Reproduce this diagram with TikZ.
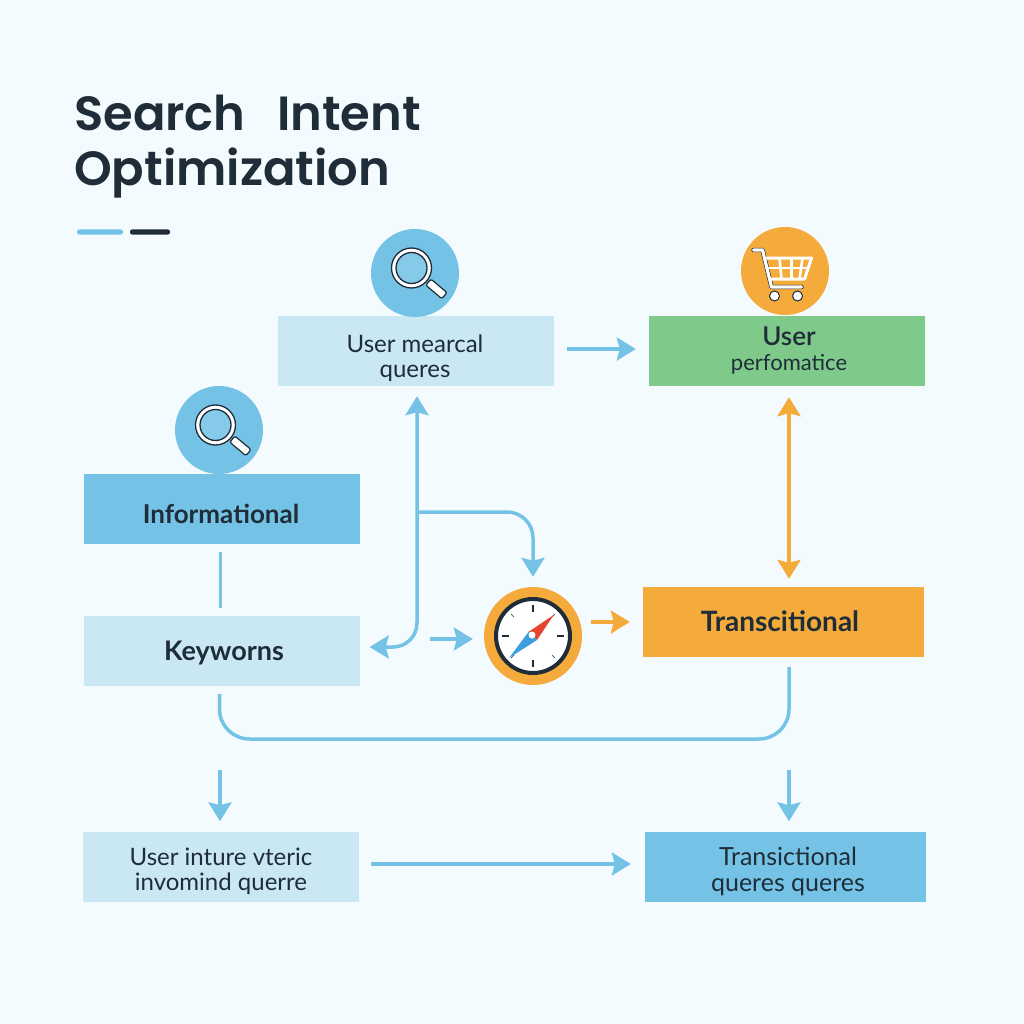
\documentclass[tikz,border=0pt]{standalone}
\usepackage{fontspec}
\setmainfont{Lato}
\newfontfamily\titlefont{Poppins SemiBold}
\newfontfamily\midfont{Lato Semibold}
\usetikzlibrary{calc,
	positioning,
	arrows.meta}
\definecolor{pagebg}{HTML}{F4FBFE}
\definecolor{ink}{HTML}{1F2D38}
\definecolor{skyblue}{HTML}{74C3E6}
\definecolor{paleblue}{HTML}{C9E8F3}
\definecolor{leaf}{HTML}{7FC98A}
\definecolor{amber}{HTML}{F5AB3C}
\definecolor{needlered}{HTML}{E5452F}
\definecolor{needleblue}{HTML}{3F9FDE}
\tikzstyle{box}=[minimum width=276pt, minimum height=70pt, inner sep=0]
\tikzstyle{pale}=[box, fill=paleblue]
\tikzstyle{sky}=[box, fill=skyblue]
\tikzstyle{txt}=[inner sep=0, align=center, text=ink, font=\fontsize{24}{25}\selectfont]
\tikzstyle{head}=[txt, font=\bfseries\fontsize{26}{26}\selectfont]
\tikzstyle{disc}=[circle, minimum size=88pt, inner sep=0]
\tikzstyle{flow}=[draw=skyblue, line width=3.5pt, -{Stealth[length=19pt,width=23pt,inset=3pt]}]
\tikzstyle{flowo}=[flow, draw=amber]
\tikzstyle{wire}=[draw=skyblue, line width=3.5pt]
\tikzset{
	lens/.pic={
		\draw[ink, line width=1.2pt, fill=white, rounded corners=2pt, rotate=-40] (22,-4) rectangle (43,4);
		\fill[white, even odd rule] (0,0) circle (20) (0,0) circle (15.5);
		\fill[skyblue!88!white] (0,0) circle (15.5);
		\draw[ink, line width=1.3pt] (0,0) circle (20) (0,0) circle (15.5);
	},
	trolley/.pic={
		\draw[ink, line width=4.4pt, line join=round, line cap=round] (-32,-20) -- (-23,-20) -- (-14,17) -- (16,17);
		\draw[white, line width=3.2pt, line join=round, line cap=round] (-32,-20) -- (-23,-20) -- (-14,17) -- (16,17);
		\draw[white, line width=3pt, line join=round] (-20,-12) -- (26,-12) -- (19,9) -- (-15,9);
		\foreach \gx/\gb in {-6/-4,6/6,17/14} \draw[white, line width=2.6pt] (\gx,-12) -- (\gb,9);
		\draw[white, line width=2.6pt] (-18,-2) -- (22,-2);
		\fill[white] (-11,26) circle (5) (12,26) circle (5);
		\draw[ink, line width=1pt] (-11,26) circle (5) (12,26) circle (5);
	}
}
\begin{document}
\begin{tikzpicture}[x=1pt, y=-1pt]
	\useasboundingbox (0,0) rectangle (1024,1024);
	\fill[pagebg] (0,0) rectangle (1024,1024);

	% title
	\node[anchor=west, inner sep=0, text=ink, font=\titlefont\fontsize{48}{55}\selectfont, align=left] (title) at (74,147) {Search\hspace{20pt} Intent\\Optimization};
	\fill[skyblue, rounded corners=2pt] (77,229.5) rectangle (123,234.5);
	\fill[ink, rounded corners=2pt] (130,229.5) rectangle (170,234.5);

	% boxes
	\node[pale] (mearcal) at (416,351) {};
	\node[box, fill=leaf] (perf) at (787,351) {};
	\node[sky] (info) at (221.5,509) {};
	\node[pale] (keyw) at (221.5,651) {};
	\node[box, fill=amber, minimum width=281pt] (trans) at (783.5,622) {};
	\node[pale] (inture) at (221,866.5) {};
	\node[sky, minimum width=281pt] (transq) at (785.5,866.5) {};

	% labels
	\node[txt] (mearcaltxt) at (415,358) {User mearcal\\queres};
	\node[txt] (perftxt) at (789,351) {{\midfont\fontsize{26}{25}\selectfont User}\\{\fontsize{22}{25}\selectfont perfomatice}};
	\node[head] (infotxt) at (221,514) {Informational};
	\node[head, font=\bfseries\fontsize{27}{26}\selectfont] (keywtxt) at (224,653) {Keyworns};
	\node[head, font=\bfseries\fontsize{28}{26}\selectfont] (transtxt) at (780,621) {Transcitional};
	\node[txt] (inturetxt) at (221,871) {User inture vteric\\invomind querre};
	\node[txt, font=\fontsize{25}{26}\selectfont] (transqtxt) at (788,871) {Transictional\\queres queres};

	% icons
	\node[disc, fill=skyblue] (lensa) at (415,273) {};
	\node[disc, fill=skyblue] (lensb) at (219,430) {};
	\node[disc, fill=amber] (cart) at (785,271) {};
	\node[disc, fill=amber, minimum size=98pt] (compass) at (533,636) {};
	\pic at (411.5,268) {lens};
	\pic at (215.5,425) {lens};
	\pic at (785.5,270) {trolley};
	\draw[ink, line width=4pt, fill=white] (compass.center) circle (37);
	\foreach \ang in {0,90,180,270}
		\draw[ink, line width=2pt] (compass.center) ++(\ang:24) -- ++(\ang:7);
	\foreach \ang in {45,135,225,315}
		\draw[ink!70, line width=1pt] (compass.center) ++(\ang:27) -- ++(\ang:4);
	\fill[needlered] ($(compass.center)+(20.7,-21)$) -- ($(compass.center)+(-4.3,-4.3)$) -- ($(compass.center)+(4,4)$) -- cycle;
	\fill[needleblue] ($(compass.center)+(-24,22)$) -- ($(compass.center)+(-4.3,-4.3)$) -- ($(compass.center)+(4,4)$) -- cycle;
	\fill[white] ($(compass.center)+(-1,-1)$) circle (3.5);

	% free ends
	\coordinate (kfree) at (430,639);
	\coordinate (downa) at (220,770);
	\coordinate (downb) at (789,770);
	\coordinate (fork) at (417,512);

	% connectors
	\draw[wire] ($(info.south)+(-1,8)$) -- ($(keyw.north)+(-1,-8)$);
	\draw[flow, {Stealth[length=19pt,width=23pt,inset=3pt]}-{Stealth[length=19pt,width=23pt,inset=3pt]}, rounded corners=24pt] ($(mearcal.south)+(1,10)$) -- (417,647) -- ($(keyw.east |- 0,647)+(10,0)$);
	\draw[flow, rounded corners=26pt] (fork) -- (533,512) -- ($(compass.north)+(0,-10)$);
	\draw[flow, shorten >=11pt] (kfree) -- (kfree -| compass.west);
	\draw[flowo, shorten <=9pt, shorten >=13pt] (compass.east |- trans.west) -- (trans.west);
	\draw[flow, shorten <=13pt, shorten >=13pt] (mearcal.east |- 0,349) -- (perf.west |- 0,349);
	\draw[flowo, {Stealth[length=19pt,width=23pt,inset=3pt]}-{Stealth[length=19pt,width=23pt,inset=3pt]}] ($(perf.south)+(2,11)$) -- ($(trans.north)+(5.5,-8)$);
	\draw[wire, rounded corners=30pt] ($(keyw.south)+(-2,8)$) |- (789,739) -- ($(trans.south)+(5.5,10)$);
	\draw[flow] (downa) -- ($(inture.north)+(-1,-10)$);
	\draw[flow] (downb) -- ($(transq.north)+(3.5,-10)$);
	\draw[flow, shorten <=12pt, shorten >=14pt] (inture.east |- 0,864) -- (transq.west |- 0,864);
\end{tikzpicture}
\end{document}
